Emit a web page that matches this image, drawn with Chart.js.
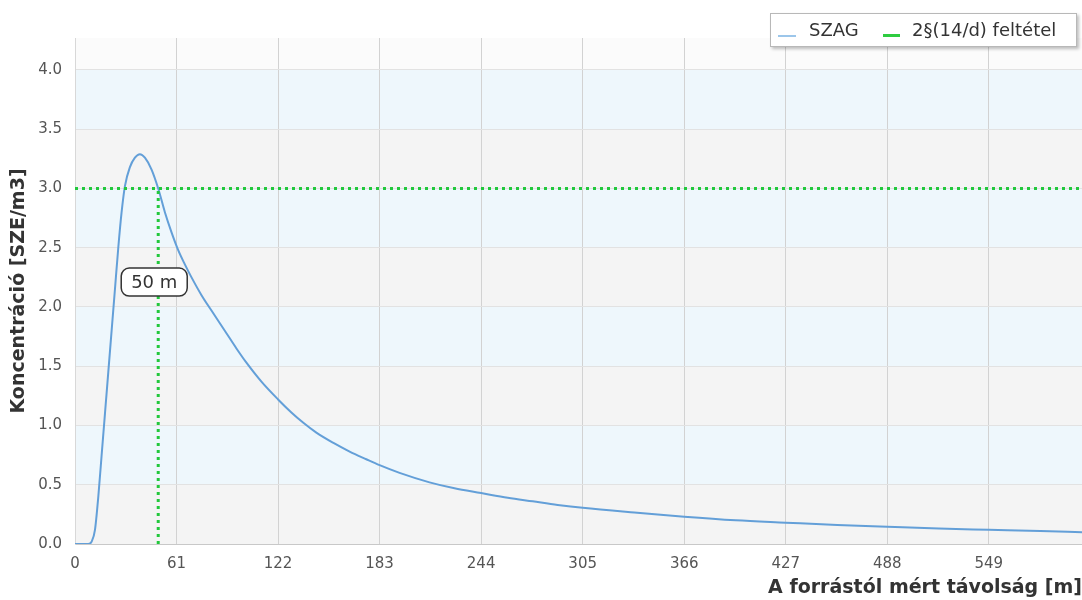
<!DOCTYPE html>
<html>
<head>
<meta charset="utf-8">
<script src="https://cdn.jsdelivr.net/npm/chart.js@4.4.1/dist/chart.umd.min.js"></script>
<style>
  html, body { margin: 0; padding: 0; background: #fff; }
  #wrap { position: relative; width: 1082px; height: 600px; }
  #legend {
    position: absolute; left: 770px; top: 13px; width: 305px; height: 32px;
    border: 1px solid #b8b8b8; background: #fff;
    box-shadow: 2px 2px 3px rgba(0,0,0,0.25);
    font: 18px "DejaVu Sans", sans-serif; color: #333;
  }
  #legend .item { position: absolute; top: 0; line-height: 32px; white-space: nowrap; }
  #legend .mark { position: absolute; }
</style>
</head>
<body>
<div id="wrap">
  <canvas id="c" width="1082" height="600"></canvas>
  <div id="legend">
    <span class="mark" style="left:7px; top:21px; width:18px; height:2px; background:#9cc6ea"></span>
    <span class="item" style="left:38px">SZAG</span>
    <span class="mark" style="left:112px; top:20px; width:17px; height:3px; background:#2ecc40"></span>
    <span class="item" style="left:141px">2§(14/d) feltétel</span>
  </div>
</div>
<script>
// távolság [m] és SZAG koncentráció [SZE/m3]
const distances = [0, 8, 10, 12, 14, 16, 18, 20, 22, 24, 26, 28, 30, 33, 36, 39, 42, 46, 50, 54, 58, 62, 66, 70, 76, 82, 90, 97, 103, 112, 122, 130, 137, 145, 155, 165, 175, 183, 195, 213, 228, 244, 260, 275, 290, 305, 336, 366, 397, 427, 458, 488, 519, 549, 580, 605];
const szag = [0, 0, 0.02, 0.12, 0.4, 0.75, 1.1, 1.45, 1.8, 2.15, 2.5, 2.8, 3.02, 3.18, 3.26, 3.29, 3.26, 3.16, 3.0, 2.8, 2.63, 2.48, 2.36, 2.25, 2.1, 1.97, 1.8, 1.65, 1.53, 1.37, 1.22, 1.11, 1.025, 0.94, 0.855, 0.78, 0.715, 0.665, 0.6, 0.52, 0.47, 0.43, 0.39, 0.36, 0.33, 0.305, 0.265, 0.23, 0.20, 0.18, 0.16, 0.145, 0.13, 0.12, 0.11, 0.10];

// 2§(14/d) feltétel: határérték és a metszési távolság
const limitX = [0, 605];
const limitY = [3, 3];
const crossX = [50, 50];
const crossY = [0, 3];
const crossLabel = '50 m';
const crossLabelY = 2.21;

const xTicks = [0, 61, 122, 183, 244, 305, 366, 427, 488, 549];
const yTicks = [0, 0.5, 1, 1.5, 2, 2.5, 3, 3.5, 4];
const xMax = 605;
const yMax = 4.27;

const toPoints = (xs, ys) => xs.map((x, i) => ({ x: x, y: ys[i] }));

// csíkos háttér a vízszintes rácsvonalak között
const bands = {
  id: 'bands',
  beforeDraw(chart) {
    const { ctx, chartArea: a, scales: { y } } = chart;
    ctx.save();
    ctx.fillStyle = '#fbfbfb';
    ctx.fillRect(a.left, a.top, a.right - a.left, a.bottom - a.top);
    for (let i = 0; i < yTicks.length - 1; i++) {
      const top = y.getPixelForValue(yTicks[i + 1]);
      const bot = y.getPixelForValue(yTicks[i]);
      ctx.fillStyle = i % 2 === 0 ? '#f4f4f4' : '#eef7fc';
      ctx.fillRect(a.left, top, a.right - a.left, bot - top);
    }
    ctx.restore();
  }
};

// "50 m" felirat a metszésnél
const crossTag = {
  id: 'crossTag',
  afterDatasetsDraw(chart) {
    const { ctx, scales: { x, y } } = chart;
    const cx = x.getPixelForValue(crossX[0]) - 4;
    const cy = y.getPixelForValue(crossLabelY);
    const w = 66, h = 28, r = 8;
    ctx.save();
    ctx.beginPath();
    ctx.roundRect(cx - w / 2, cy - h / 2, w, h, r);
    ctx.fillStyle = '#fff';
    ctx.fill();
    ctx.lineWidth = 1.5;
    ctx.strokeStyle = '#333';
    ctx.stroke();
    ctx.fillStyle = '#333';
    ctx.font = '18px "DejaVu Sans", sans-serif';
    ctx.textAlign = 'center';
    ctx.textBaseline = 'middle';
    ctx.fillText(crossLabel, cx, cy + 1);
    ctx.restore();
  }
};

new Chart(document.getElementById('c'), {
  type: 'line',
  data: {
    datasets: [
      {
        label: 'SZAG',
        data: toPoints(distances, szag),
        borderColor: '#639fd8',
        borderWidth: 2,
        pointRadius: 0,
        cubicInterpolationMode: 'monotone',
        order: 2
      },
      {
        label: '2§(14/d) feltétel',
        data: toPoints(limitX, limitY),
        borderColor: '#22c83c',
        borderWidth: 3,
        borderDash: [3, 4],
        pointRadius: 0,
        order: 1
      },
      {
        label: 'metszés',
        data: toPoints(crossX, crossY),
        borderColor: '#22c83c',
        borderWidth: 3,
        borderDash: [3, 4],
        pointRadius: 0,
        order: 1
      }
    ]
  },
  options: {
    responsive: false,
    animation: false,
    layout: { padding: { top: 38, left: 0, right: 0, bottom: 0 } },
    plugins: {
      legend: { display: false },
      tooltip: { enabled: false }
    },
    scales: {
      x: {
        type: 'linear',
        min: 0,
        max: xMax,
        afterBuildTicks: s => { s.ticks = xTicks.map(v => ({ value: v })); },
        afterFit: s => { s.height = 56; },
        grid: { color: '#d2d2d2', drawTicks: false },
        border: { color: '#c8c8c8' },
        ticks: {
          padding: 11,
          color: '#555',
          font: { family: 'DejaVu Sans', size: 15 },
          maxRotation: 0
        },
        title: {
          display: true,
          text: 'A forrástól mért távolság [m]',
          align: 'end',
          color: '#333',
          font: { family: 'DejaVu Sans', size: 19, weight: 'bold' },
          padding: { top: 0, bottom: 1 }
        }
      },
      y: {
        min: 0,
        max: yMax,
        afterBuildTicks: s => { s.ticks = yTicks.map(v => ({ value: v })); },
        afterFit: s => { s.width = 75; },
        grid: { color: '#e2e2e2', drawTicks: false },
        border: { color: '#d8d8d8' },
        ticks: {
          padding: 13,
          color: '#555',
          font: { family: 'DejaVu Sans', size: 15 },
          callback: v => v.toFixed(1)
        },
        title: {
          display: true,
          text: 'Koncentráció [SZE/m3]',
          color: '#333',
          font: { family: 'DejaVu Sans', size: 19, weight: 'bold' },
          padding: { top: 8, bottom: 0 }
        }
      }
    }
  },
  plugins: [bands, crossTag]
});
</script>
</body>
</html>
